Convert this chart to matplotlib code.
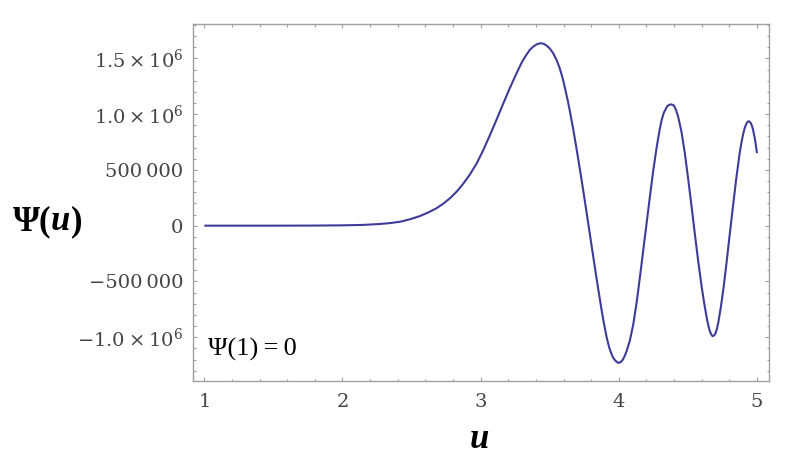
import matplotlib
matplotlib.use("Agg")
import matplotlib.pyplot as plt
from matplotlib.ticker import FixedLocator, FixedFormatter, MultipleLocator

# curve, psi in units of 1e6
u_vals = [1.0, 1.5, 1.8, 2.0, 2.15, 2.27, 2.35, 2.42, 2.49, 2.56, 2.62, 2.68,
          2.73, 2.78, 2.83, 2.87, 2.92, 2.97, 3.02, 3.07, 3.115, 3.16, 3.21,
          3.26, 3.30, 3.33, 3.355, 3.38, 3.41, 3.436, 3.46, 3.48, 3.50, 3.525,
          3.55, 3.57, 3.585, 3.60, 3.63, 3.65, 3.67, 3.69, 3.71, 3.73, 3.75,
          3.78, 3.80, 3.83, 3.85, 3.876, 3.89, 3.912, 3.93, 3.95, 3.962,
          3.975, 3.99, 4.0, 4.015, 4.03, 4.042, 4.055, 4.08, 4.104, 4.129,
          4.153, 4.177, 4.20, 4.225, 4.25, 4.275, 4.297, 4.31, 4.325, 4.35,
          4.36, 4.377, 4.39, 4.40, 4.415, 4.43, 4.454, 4.478, 4.50, 4.527,
          4.55, 4.574, 4.60, 4.62, 4.64, 4.655, 4.667, 4.678, 4.69, 4.70,
          4.71, 4.72, 4.74, 4.76, 4.78, 4.80, 4.828, 4.85, 4.876, 4.89, 4.90,
          4.91, 4.92, 4.928, 4.936, 4.945, 4.955, 4.964, 4.972, 4.987, 5.0]
psi_vals = [0.0, 0.0, 0.001, 0.003, 0.007, 0.015, 0.024, 0.036, 0.058, 0.086,
            0.118, 0.156, 0.198, 0.248, 0.31, 0.37, 0.455, 0.555, 0.68, 0.82,
            0.95, 1.085, 1.23, 1.367, 1.47, 1.53, 1.575, 1.605, 1.629, 1.636,
            1.629, 1.612, 1.589, 1.546, 1.485, 1.42, 1.36, 1.29, 1.125, 1.00,
            0.865, 0.72, 0.57, 0.415, 0.255, 0.01, -0.155, -0.40, -0.56,
            -0.76, -0.86, -1.00, -1.09, -1.16, -1.19, -1.21, -1.226, -1.23,
            -1.222, -1.20, -1.17, -1.13, -1.03, -0.89, -0.69, -0.46, -0.22,
            0.01, 0.26, 0.50, 0.71, 0.87, 0.945, 1.01, 1.07, 1.08, 1.088,
            1.083, 1.075, 1.035, 0.975, 0.84, 0.65, 0.44, 0.17, -0.07, -0.31,
            -0.55, -0.71, -0.85, -0.93, -0.97, -0.99, -0.985, -0.965, -0.925,
            -0.87, -0.72, -0.54, -0.33, -0.11, 0.19, 0.42, 0.66, 0.76, 0.82,
            0.87, 0.905, 0.925, 0.935, 0.935, 0.92, 0.895, 0.86, 0.765, 0.65]

x_ticks = [1, 2, 3, 4, 5]
y_ticks = [-1.0e6, -5e5, 0, 5e5, 1.0e6, 1.5e6]
y_tick_labels = [r"$-1.0\times10^{6}$", "\u2212500\u2009000", "0",
                 "500\u2009000", r"$1.0\times10^{6}$", r"$1.5\times10^{6}$"]

plt.rcParams["mathtext.fontset"] = "dejavuserif"

fig = plt.figure(figsize=(7.93, 4.61), dpi=100)
ax = fig.add_axes([0.2434, 0.1742, 0.9697 - 0.2434, 0.9469 - 0.1742])

ax.plot(u_vals, [p * 1e6 for p in psi_vals], color="#3E3C98", lw=1.5,
        solid_joinstyle="round", solid_capstyle="butt")

ax.set_xlim(0.918, 5.087)
ax.set_ylim(-1.39e6, 1.804e6)

frame_col = "#a0a0a0"
for s in ax.spines.values():
    s.set_color(frame_col)
    s.set_linewidth(1.0)

ax.xaxis.set_major_locator(FixedLocator(x_ticks))
ax.xaxis.set_minor_locator(MultipleLocator(0.2))
ax.yaxis.set_major_locator(FixedLocator(y_ticks))
ax.yaxis.set_major_formatter(FixedFormatter(y_tick_labels))
ax.yaxis.set_minor_locator(MultipleLocator(1e5))

ax.tick_params(which="both", direction="in", top=True, right=True,
               color=frame_col, width=0.8)
ax.tick_params(which="major", length=3.2)
ax.tick_params(which="minor", length=1.8)
ax.tick_params(axis="x", which="major", pad=9)
ax.tick_params(axis="y", which="major", pad=7)
for lab in ax.get_xticklabels() + ax.get_yticklabels():
    lab.set_family("DejaVu Serif")
    lab.set_fontsize(14)
    lab.set_color("#444444")

# axis labels in bold serif, the variable italic
lbl = dict(family="Liberation Serif", fontsize=25, fontweight="bold", color="black")
t1 = fig.text(0.016, 0.501, "\u03a8(", va="baseline", ha="left", **lbl)
a2 = ax.annotate("u", xy=(1, 0), xycoords=t1, va="bottom", ha="left",
                 style="italic", annotation_clip=False, **lbl)
ax.annotate(")", xy=(1, 0), xycoords=a2, va="bottom", ha="left",
            annotation_clip=False, **lbl)

fig.text(0.604, 0.028, "u", ha="center", va="baseline", style="italic", **lbl)

fig.text(0.262, 0.228, "\u03a8(1)\u2009=\u20090", family="Liberation Serif",
         fontsize=19, color="black", va="baseline", ha="left")

fig.savefig("out.png", dpi=100)
